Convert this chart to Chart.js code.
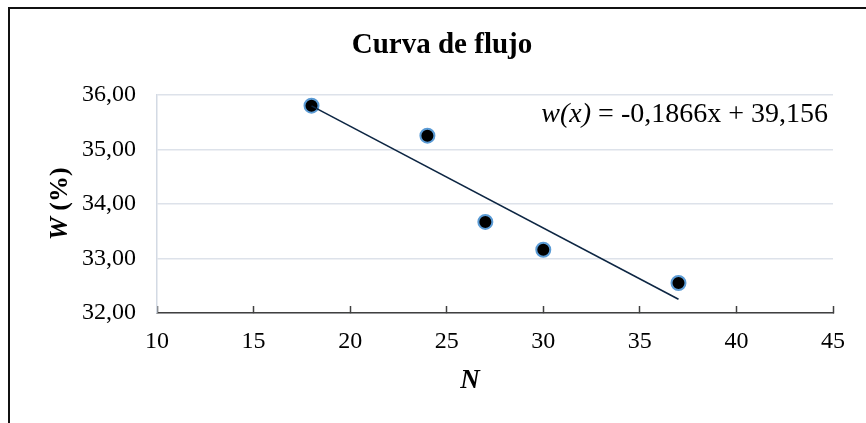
<!DOCTYPE html>
<html>
<head>
<meta charset="utf-8">
<script src="https://cdn.jsdelivr.net/npm/chart.js@4/dist/chart.umd.min.js"></script>
<style>
  html, body { margin: 0; padding: 0; background: #fff; }
  #wrap { width: 866px; height: 423px; }
</style>
</head>
<body>
<div id="wrap"><canvas id="flujo-graph" width="866" height="423"></canvas></div>
<script>
// golpes (N) vs humedad (W %)
const golpes = [18, 24, 27, 30, 37];
const humedad = [35.80, 35.25, 33.67, 33.16, 32.55];

// recta de ajuste lineal, extremos
const rectaX = [18, 37];
const rectaY = [35.797, 32.252];

const xTicks = [10, 15, 20, 25, 30, 35, 40, 45];
const yTicks = [32, 33, 34, 35, 36];

const chartTitle = 'Curva de flujo';
const equationLabel = 'w(x)';
const equationText = ' = -0,1866x + 39,156';

const serif = '"Liberation Serif", "Times New Roman", serif';

const extraText = {
  id: 'extraText',
  afterDraw(chart) {
    const ctx = chart.ctx;
    const area = chart.chartArea;
    ctx.save();

    // marco
    ctx.strokeStyle = '#111';
    ctx.lineWidth = 2;
    ctx.beginPath();
    ctx.moveTo(9, 423);
    ctx.lineTo(9, 8);
    ctx.lineTo(866, 8);
    ctx.stroke();

    // ecuacion
    ctx.fillStyle = '#000';
    ctx.textBaseline = 'alphabetic';
    ctx.font = '28px ' + serif;
    const restW = ctx.measureText(equationText).width;
    ctx.font = 'italic 28px ' + serif;
    const labW = ctx.measureText(equationLabel).width;
    const eqRight = 828;
    ctx.textAlign = 'left';
    ctx.fillText(equationLabel, eqRight - restW - labW, 122);
    ctx.font = '28px ' + serif;
    ctx.fillText(equationText, eqRight - restW, 122);

    // titulo eje y
    ctx.save();
    ctx.translate(60, (area.top + area.bottom) / 2);
    ctx.rotate(-Math.PI / 2);
    ctx.textBaseline = 'middle';
    ctx.font = 'bold italic 26px ' + serif;
    const wW = ctx.measureText('W').width;
    ctx.font = 'bold 26px ' + serif;
    const pW = ctx.measureText(' (%)').width;
    const start = -(wW + pW) / 2;
    ctx.font = 'bold italic 26px ' + serif;
    ctx.fillText('W', start, 0);
    ctx.font = 'bold 26px ' + serif;
    ctx.fillText(' (%)', start + wW, 0);
    ctx.restore();

    // titulo eje x
    ctx.font = 'bold italic 27px ' + serif;
    ctx.textAlign = 'center';
    ctx.textBaseline = 'middle';
    ctx.fillText('N', 470, 381);

    ctx.restore();
  }
};

const flujoChart = new Chart(document.querySelector('#flujo-graph'), {
  type: 'scatter',
  data: {
    datasets: [{
      type: 'line',
      label: 'Lineal',
      data: rectaX.map((x, i) => ({ x: x, y: rectaY[i] })),
      borderColor: '#0d2643',
      borderWidth: 1.6,
      pointRadius: 0,
      fill: false,
      order: 0
    }, {
      label: 'W (%)',
      data: golpes.map((x, i) => ({ x: x, y: humedad[i] })),
      backgroundColor: '#000',
      borderColor: '#5b9bd5',
      borderWidth: 2,
      pointRadius: 7,
      order: 1
    }]
  },
  options: {
    responsive: false,
    animation: false,
    layout: {
      padding: { left: 48, right: 30, top: 10, bottom: 0 }
    },
    plugins: {
      legend: { display: false },
      tooltip: { enabled: false },
      title: {
        display: true,
        text: chartTitle,
        color: '#000',
        font: { family: serif, size: 29, weight: 'bold' },
        padding: { top: 18, bottom: 32 }
      }
    },
    scales: {
      x: {
        type: 'linear',
        min: xTicks[0],
        max: xTicks[xTicks.length - 1],
        afterBuildTicks: (scale) => { scale.ticks = xTicks.map(v => ({ value: v })); },
        afterFit: (scale) => { scale.height = 110; },
        border: { color: '#404040', width: 1.5 },
        grid: {
          drawOnChartArea: false,
          tickLength: -7,
          tickColor: '#404040',
          tickWidth: 1.5
        },
        ticks: {
          color: '#000',
          padding: 21,
          font: { family: serif, size: 24 },
          callback: (v) => String(v)
        }
      },
      y: {
        min: yTicks[0],
        max: yTicks[yTicks.length - 1],
        afterBuildTicks: (scale) => { scale.ticks = yTicks.map(v => ({ value: v })); },
        afterFit: (scale) => { scale.width = 109; },
        border: { color: '#d3dae4', width: 1.5 },
        grid: {
          color: '#dde2ea',
          lineWidth: 1.5,
          drawTicks: false
        },
        ticks: {
          color: '#000',
          padding: 21,
          font: { family: serif, size: 24 },
          callback: (v) => v.toFixed(2).replace('.', ',')
        }
      }
    }
  },
  plugins: [extraText]
});
</script>
</body>
</html>
